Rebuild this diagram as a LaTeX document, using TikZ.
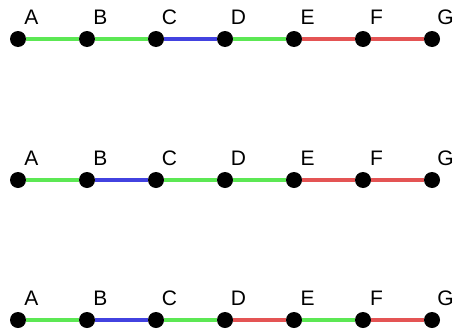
\documentclass[tikz,border=0pt]{standalone}
\usepackage{fontspec}
\setmainfont{Liberation Sans}
\definecolor{gr}{RGB}{92,232,84}
\definecolor{bl}{RGB}{66,66,224}
\definecolor{rd}{RGB}{228,84,84}
\begin{document}
\begin{tikzpicture}[x=1pt,y=1pt,
  dot/.style={circle,fill=black,inner sep=0pt,minimum size=16pt},
  lab/.style={font=\fontsize{21}{21}\selectfont,inner sep=0pt},
  edge/.style={line width=3.2pt}]
\useasboundingbox (0,0) rectangle (454,333);
\foreach \r/\y/\cols in {1/294/{gr,gr,bl,gr,rd,rd},2/153/{gr,bl,gr,gr,rd,rd},3/13/{gr,bl,gr,rd,gr,rd}}{
  \foreach \n/\x in {A/18,B/87,C/156,D/225,E/294,F/363,G/432}{
    \node[dot] (d\r\n) at (\x,\y) {};
    \node[lab] (l\r\n) at ([shift={(13.5,21.5)}]d\r\n.center) {\n};
  }
  \foreach \a/\b [count=\i] in {A/B,B/C,C/D,D/E,E/F,F/G}{
    \foreach \c [count=\j] in \cols {
      \ifnum\i=\j \draw[edge,\c] (d\r\a) -- (d\r\b);\fi
    }
  }
}
\end{tikzpicture}
\end{document}
